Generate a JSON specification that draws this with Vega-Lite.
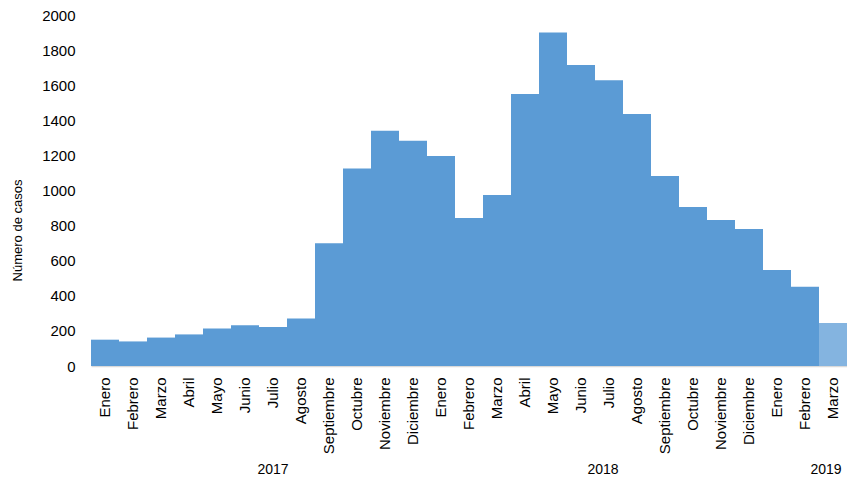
{
  "$schema": "https://vega.github.io/schema/vega-lite/v6.json",
  "autosize": "none",
  "padding": {"left": 91, "top": 15, "right": 0, "bottom": 113},
  "width": 756,
  "height": 351,
  "background": "white",
  "config": {
    "view": {"stroke": null},
    "font": "Liberation Sans"
  },
  "data": {
    "values": [
      {"mes": "Enero 2017", "casos": 150, "estado": "confirmado"},
      {"mes": "Febrero 2017", "casos": 140, "estado": "confirmado"},
      {"mes": "Marzo 2017", "casos": 162, "estado": "confirmado"},
      {"mes": "Abril 2017", "casos": 180, "estado": "confirmado"},
      {"mes": "Mayo 2017", "casos": 214, "estado": "confirmado"},
      {"mes": "Junio 2017", "casos": 232, "estado": "confirmado"},
      {"mes": "Julio 2017", "casos": 222, "estado": "confirmado"},
      {"mes": "Agosto 2017", "casos": 270, "estado": "confirmado"},
      {"mes": "Septiembre 2017", "casos": 700, "estado": "confirmado"},
      {"mes": "Octubre 2017", "casos": 1125, "estado": "confirmado"},
      {"mes": "Noviembre 2017", "casos": 1340, "estado": "confirmado"},
      {"mes": "Diciembre 2017", "casos": 1283, "estado": "confirmado"},
      {"mes": "Enero 2018", "casos": 1197, "estado": "confirmado"},
      {"mes": "Febrero 2018", "casos": 843, "estado": "confirmado"},
      {"mes": "Marzo 2018", "casos": 974, "estado": "confirmado"},
      {"mes": "Abril 2018", "casos": 1550, "estado": "confirmado"},
      {"mes": "Mayo 2018", "casos": 1900, "estado": "confirmado"},
      {"mes": "Junio 2018", "casos": 1715, "estado": "confirmado"},
      {"mes": "Julio 2018", "casos": 1628, "estado": "confirmado"},
      {"mes": "Agosto 2018", "casos": 1436, "estado": "confirmado"},
      {"mes": "Septiembre 2018", "casos": 1083, "estado": "confirmado"},
      {"mes": "Octubre 2018", "casos": 906, "estado": "confirmado"},
      {"mes": "Noviembre 2018", "casos": 832, "estado": "confirmado"},
      {"mes": "Diciembre 2018", "casos": 781, "estado": "confirmado"},
      {"mes": "Enero 2019", "casos": 547, "estado": "confirmado"},
      {"mes": "Febrero 2019", "casos": 452, "estado": "confirmado"},
      {"mes": "Marzo 2019", "casos": 245, "estado": "preliminar"}
    ]
  },
  "layer": [
    {
      "mark": {"type": "bar"},
      "encoding": {
        "x": {
          "field": "mes",
          "type": "nominal",
          "sort": null,
          "scale": {"paddingInner": 0, "paddingOuter": 0},
          "axis": {
            "orient": "bottom",
            "title": null,
            "labelExpr": "split(datum.label, ' ')[0]",
            "labelAngle": -90,
            "labelAlign": "right",
            "labelBaseline": "middle",
            "labelFontSize": 15,
            "labelColor": "#000000",
            "labelPadding": 11,
            "labelOverlap": false,
            "labelBound": false,
            "ticks": false,
            "domainColor": "#d9d9d9",
            "domainWidth": 1.5
          }
        },
        "y": {
          "field": "casos",
          "type": "quantitative",
          "scale": {"domain": [0, 2000], "nice": false},
          "axis": {
            "title": "Número de casos",
            "titleFontSize": 13,
            "titleFontWeight": "normal",
            "titleColor": "#000000",
            "titlePadding": 17,
            "titleY": 215,
            "values": [0, 200, 400, 600, 800, 1000, 1200, 1400, 1600, 1800, 2000],
            "format": "d",
            "labelFontSize": 15,
            "labelColor": "#000000",
            "labelPadding": 16,
            "labelOverlap": false,
            "labelBound": false,
            "labelFlush": false,
            "ticks": false,
            "domain": false,
            "grid": false
          }
        },
        "color": {
          "field": "estado",
          "type": "nominal",
          "scale": {"domain": ["confirmado", "preliminar"], "range": ["#5b9bd5", "#84b4e0"]},
          "legend": null
        }
      }
    },
    {
      "mark": {"type": "bar", "opacity": 0},
      "encoding": {
        "x": {
          "field": "mes",
          "type": "nominal",
          "sort": null,
          "axis": {
            "orient": "bottom",
            "title": null,
            "labelExpr": "datum.label == 'Julio 2017' ? '2017' : datum.label == 'Julio 2018' ? '2018' : datum.label == 'Marzo 2019' ? '2019' : ''",
            "labelAngle": 0,
            "labelAlign": "center",
            "labelBaseline": "top",
            "labelFontSize": 14,
            "labelColor": "#000000",
            "labelPadding": 96,
            "labelOffset": {
              "condition": [
                {"test": "datum.value == 'Marzo 2019'", "value": -7},
                {"test": "datum.value == 'Julio 2018'", "value": -6}
              ],
              "value": 0
            },
            "labelOverlap": false,
            "labelBound": false,
            "ticks": false,
            "domain": false
          }
        }
      }
    }
  ],
  "resolve": {"axis": {"x": "independent"}}
}
